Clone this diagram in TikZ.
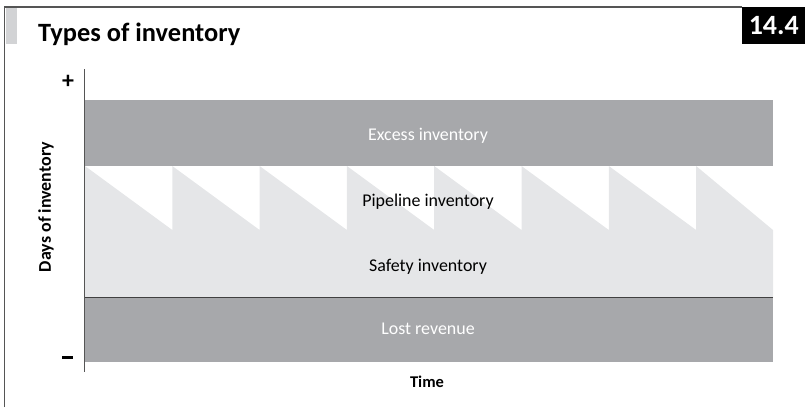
\documentclass[tikz,border=0pt]{standalone}
\usepackage{fontspec}
\setmainfont{Carlito}
\usepackage{xcolor}
\usetikzlibrary{positioning}
\definecolor{banddark}{HTML}{A7A8AB}
\definecolor{bandlight}{HTML}{E5E6E8}
\definecolor{framegray}{HTML}{555555}
\definecolor{tabgray}{HTML}{D2D3D5}
\tikzset{
  band/.style={fill=banddark, draw=none},
  bandlabel/.style={font=\fontsize{18}{20}\selectfont, inner sep=0pt},
  axislabel/.style={font=\fontsize{16.5}{18}\selectfont\bfseries, inner sep=0pt},
  signlabel/.style={font=\fontsize{24}{24}\selectfont\bfseries, inner sep=0pt},
  axis/.style={draw=framegray, line width=1pt},
  frameline/.style={draw=framegray, line width=1.2pt}
}
\begin{document}
\begin{tikzpicture}[x=1bp, y=-1bp]
  \useasboundingbox (0,0) rectangle (805,407);
  % frame and title
  \draw[frameline] (4.5,407) -- (4.5,7) -- (742,7);
  \fill[tabgray] (5.5,8) rectangle (17,44);
  \node[anchor=base west, font=\fontsize{26.5}{30}\selectfont\bfseries, inner sep=0pt] (title) at (38,41) {Types of inventory};
  \node[fill=black, text=white, font=\fontsize{28}{30}\selectfont\bfseries, minimum width=63bp, minimum height=37bp, inner sep=0pt, anchor=north west] (chapter) at (742,7) {14.4};

  % bands
  \fill[band] (85,100) rectangle (773,166);
  \fill[bandlight] (85,298) -- (85,166)
    \foreach \k in {1,...,7} { -- ({85+87.3*\k},230) -- ({85+87.3*\k},166) }
    -- (773,230) -- (773,298) -- cycle;
  \fill[band] (85,298) rectangle (773,362);
  \draw[draw=black!75, line width=1.2pt] (85,297.5) -- (773,297.5);

  % axis
  \coordinate (ytop) at (84,69);
  \coordinate (ybot) at (84,372);
  \draw[axis] (ytop) -- (ybot);
  \node[signlabel] (plus) at (68,81.5) {+};
  \node[inner sep=0pt] (minus) at (67.5,357.5) {\rule{11bp}{3bp}};
  \node[axislabel, font=\fontsize{18}{20}\selectfont\bfseries, rotate=90] (days) at (46,207) {Days of inventory};
  \node[axislabel] (time) at (427,382) {Time};

  % band labels
  \node[bandlabel, text=white] (excess) at (428,136) {Excess inventory};
  \node[bandlabel] (pipeline) at (428,202) {Pipeline inventory};
  \node[bandlabel] (safety) at (428,267) {Safety inventory};
  \node[bandlabel, text=white] (lost) at (428,329) {Lost revenue};
\end{tikzpicture}
\end{document}
